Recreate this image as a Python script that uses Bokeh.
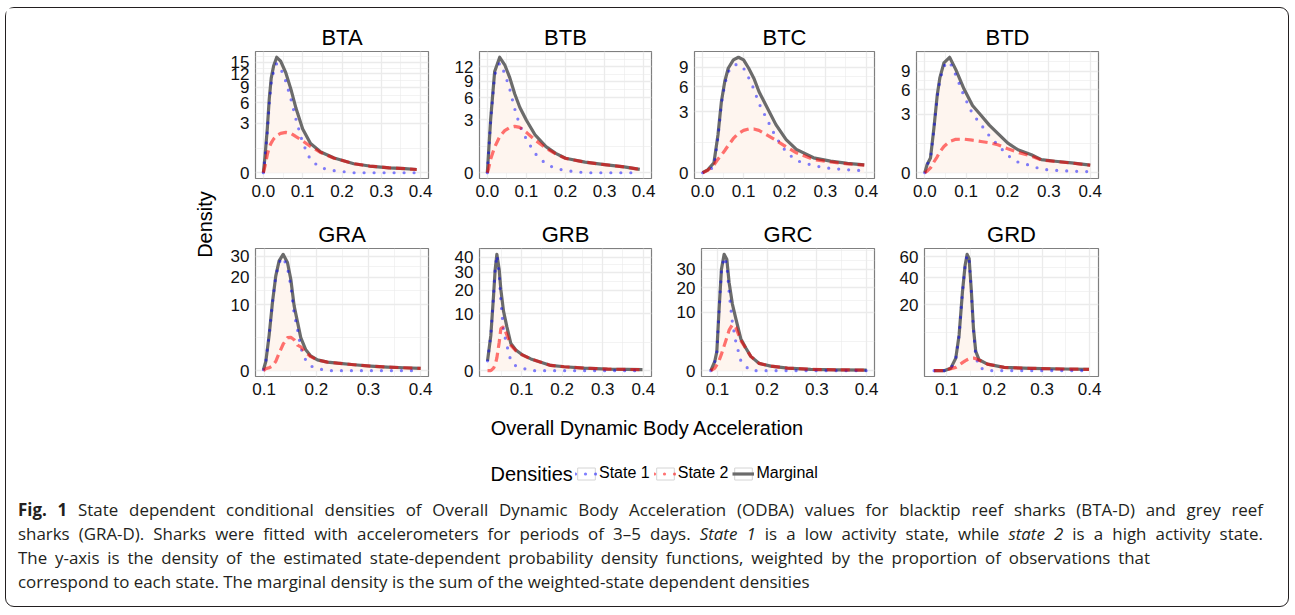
import math
import numpy as np
from bokeh.plotting import figure
from bokeh.models import (Range1d, FixedTicker, CustomJSTickFormatter, Label,
                          Legend, LegendItem, Div)
from bokeh.layouts import row, column
from bokeh.embed import file_html
from bokeh.resources import INLINE

FONT = "Liberation Sans"

# ---------------- data ----------------
PANEL_NAMES = ["BTA", "BTB", "BTC", "BTD", "GRA", "GRB", "GRC", "GRD"]

BTA_X = [0.0, 0.004, 0.01, 0.015, 0.02, 0.026, 0.034, 0.044, 0.057, 0.07, 0.083, 0.1,
         0.12, 0.146, 0.18, 0.23, 0.27, 0.32, 0.36, 0.39]
BTA_S1 = [0.0, 0.25, 2.0, 5.9, 9.9, 12.6, 14.7, 13.4, 10.3, 6.7, 3.5, 1.1,
          0.2, 0.03, 0.005, 0, 0, 0, 0, 0]
BTA_S2 = [0.0, 0.05, 0.4, 0.8, 1.1, 1.4, 1.7, 1.9, 2.0, 1.9, 1.6, 1.25,
          0.85, 0.5, 0.26, 0.1, 0.055, 0.03, 0.02, 0.013]

BTB_X = [0.0, 0.0034, 0.0086, 0.0188, 0.0317, 0.0445, 0.0574, 0.07, 0.083, 0.1,
         0.122, 0.15, 0.175, 0.2, 0.25, 0.3, 0.35, 0.39]
BTB_S1 = [0.0, 0.46, 2.9, 10.3, 12.9, 10.6, 7.5, 4.4, 2.4, 1.2,
          0.4, 0.08, 0.02, 0.005, 0, 0, 0, 0]
BTB_S2 = [0.0, 0.02, 0.2, 0.7, 1.4, 1.9, 2.2, 2.3, 2.2, 1.75,
          1.15, 0.65, 0.38, 0.22, 0.12, 0.07, 0.037, 0.0115]

BTC_X = [0.0, 0.0125, 0.0275, 0.0375, 0.0458, 0.054, 0.0625, 0.075, 0.0875, 0.1,
         0.1125, 0.125, 0.1375, 0.154, 0.179, 0.204, 0.229, 0.271, 0.3125, 0.354, 0.395]
BTC_S1 = [0.0, 0.002, 0.03, 1.03, 3.86, 6.33, 8.23, 9.34, 9.53, 8.85,
          7.28, 5.68, 3.89, 2.54, 1.02, 0.35, 0.12, 0.04, 0.015, 0.007, 0.003]
BTC_S2 = [0.0, 0.005, 0.05, 0.15, 0.25, 0.4, 0.6, 0.95, 1.25, 1.45,
          1.55, 1.55, 1.45, 1.2, 0.85, 0.54, 0.32, 0.14, 0.094, 0.063, 0.047]

BTD_X = [0.0, 0.0057, 0.0138, 0.022, 0.03, 0.0366, 0.0463, 0.06, 0.0748, 0.095,
         0.1154, 0.1358, 0.156, 0.1764, 0.2008, 0.2252, 0.2577, 0.282, 0.315, 0.355, 0.4]
BTD_S1 = [0.0, 0.057, 0.17, 1.61, 4.96, 7.5, 9.9, 10.75, 8.33, 5.12,
          3.02, 2.02, 1.19, 0.67, 0.26, 0.1, 0.043, 0.01, 0.005, 0.002, 0.001]
BTD_S2 = [0.0, 0.002, 0.02, 0.1, 0.22, 0.38, 0.6, 0.85, 0.97, 0.98,
          0.92, 0.85, 0.78, 0.68, 0.5, 0.36, 0.24, 0.14, 0.11, 0.082, 0.049]

GRA_X = [0.0987, 0.1032, 0.1096, 0.116, 0.1223, 0.1287, 0.1364, 0.1447, 0.1511, 0.1574,
         0.1638, 0.1702, 0.1798, 0.1893, 0.2021, 0.2213, 0.2404, 0.2723, 0.3042, 0.336,
         0.368, 0.4]
GRA_S1 = [0.002, 0.185, 2.88, 10.7, 20.4, 26.9, 29.4, 24.3, 16.6, 7.5,
          4.0, 1.2, 0.25, 0.05, 0.01, 0, 0, 0, 0, 0, 0, 0]
GRA_S2 = [0.0, 0.01, 0.02, 0.05, 0.2, 0.7, 1.6, 2.5, 2.55, 2.2,
          1.5, 1.3, 0.75, 0.45, 0.26, 0.168, 0.13, 0.08, 0.049, 0.03, 0.02, 0.012]

GRB_X = [0.0162, 0.0244, 0.031, 0.035, 0.0392, 0.045, 0.049, 0.0556, 0.0638, 0.0737,
         0.086, 0.1025, 0.123, 0.1477, 0.172, 0.205, 0.2545, 0.312, 0.36, 0.398]
GRB_S1 = [0.3, 3.9, 17.3, 31.5, 41.5, 29.1, 15.0, 5.0, 2.0, 0.29,
          0.07, 0.02, 0, 0, 0, 0, 0, 0, 0, 0]
GRB_S2 = [0.0, 0.0, 0.02, 0.1, 0.5, 2.5, 5.5, 6.0, 4.0, 2.0,
          1.25, 0.75, 0.43, 0.225, 0.085, 0.048, 0.021, 0.008, 0.005, 0.003]

GRC_X = [0.0866, 0.0946, 0.0987, 0.1033, 0.108, 0.1134, 0.1188, 0.1234, 0.13, 0.1368,
         0.1469, 0.157, 0.167, 0.184, 0.2072, 0.2407, 0.2875, 0.34, 0.4]
GRC_S1 = [0.0, 0.23, 0.97, 10.9, 29.3, 37.8, 33.1, 18.0, 6.8, 2.5,
          0.3, 0.05, 0, 0, 0, 0, 0, 0, 0]
GRC_S2 = [0.0, 0.02, 0.1, 0.3, 0.8, 1.8, 3.2, 4.8, 6.2, 5.5,
          2.7, 1.45, 0.6, 0.154, 0.062, 0.02, 0.005, 0.002, 0.001]

GRD_X = [0.0734, 0.0944, 0.1084, 0.1189, 0.1259, 0.1329, 0.1385, 0.1427, 0.1469, 0.1517,
         0.156, 0.1608, 0.1678, 0.1853, 0.2203, 0.276, 0.346, 0.3986]
GRD_S1 = [0.0, 0.0, 0.01, 0.68, 5.75, 28.5, 51.0, 62.1, 57.5, 28.1,
          7.6, 1.03, 0.05, 0, 0, 0, 0, 0]
GRD_S2 = [0.0, 0.0, 0.02, 0.05, 0.15, 0.3, 0.45, 0.55, 0.65, 0.72,
          0.73, 0.68, 0.5, 0.2, 0.05, 0.025, 0.013, 0.008]

Y_TICKS = {
    "BTA": [0, 3, 6, 9, 12, 15], "BTB": [0, 3, 6, 9, 12], "BTC": [0, 3, 6, 9],
    "BTD": [0, 3, 6, 9], "GRA": [0, 10, 20, 30], "GRB": [0, 10, 20, 30, 40],
    "GRC": [0, 10, 20, 30], "GRD": [20, 40, 60],
}
X_TICKS_BT = [0.0, 0.1, 0.2, 0.3, 0.4]
X_TICKS_GR = [0.1, 0.2, 0.3, 0.4]
X_LIMITS = {
    "BTA": (0.0, 0.4), "BTB": (0.0, 0.4), "BTC": (0.0, 0.4), "BTD": (0.0, 0.4),
    "GRA": (0.0985, 0.4), "GRB": (0.0157, 0.401), "GRC": (0.0837, 0.4), "GRD": (0.0698, 0.402),
}
SERIES_LABELS = ["State 1", "State 2", "Marginal"]
LEGEND_TITLE = "Densities"
X_LABEL = "Overall Dynamic Body Acceleration"
Y_LABEL = "Density"

DATA = {
    "BTA": (BTA_X, BTA_S1, BTA_S2), "BTB": (BTB_X, BTB_S1, BTB_S2),
    "BTC": (BTC_X, BTC_S1, BTC_S2), "BTD": (BTD_X, BTD_S1, BTD_S2),
    "GRA": (GRA_X, GRA_S1, GRA_S2), "GRB": (GRB_X, GRB_S1, GRB_S2),
    "GRC": (GRC_X, GRC_S1, GRC_S2), "GRD": (GRD_X, GRD_S1, GRD_S2),
}

# ---------------- styling / layout ----------------
FRAME_W = {"BTA": 173, "BTB": 172, "BTC": 180, "BTD": 182,
           "GRA": 173, "GRB": 172, "GRC": 173, "GRD": 174}
LEFT_B = {"BTA": 38, "BTB": 36, "BTC": 28, "BTD": 27,
          "GRA": 38, "GRB": 36, "GRC": 35, "GRD": 35}
FRAME_H = 129
RIGHT_B = 15
C_MARG = "#6B6B6B"
C_S1 = "#0000FF"
C_S2 = "#FF0000"
C_FILL = "#FEF5EF"
C_GRID = "#EBEBEB"


def minor_breaks(ticks, lo, hi):
    b = list(ticks)
    d = b[1] - b[0] if len(b) > 1 else 1.0
    if lo < b[0]:
        b = [b[0] - d] + b
    if hi > b[-1]:
        b = b + [b[-1] + (b[-1] - b[-2] if len(b) > 1 else d)]
    mids = [(b[i] + b[i + 1]) / 2 for i in range(len(b) - 1)]
    out = [v for v in b + mids if lo <= v <= hi and all(abs(v - t) > 1e-9 for t in ticks)]
    return sorted(out)


def make_panel(name, top_border, bottom_border):
    xs, s1, s2 = DATA[name]
    xs = np.array(xs, dtype=float)
    s1 = np.array(s1, dtype=float)
    s2 = np.array(s2, dtype=float)
    marg = s1 + s2  # marginal = sum of the weighted state densities
    ys1, ys2, ym = np.sqrt(s1), np.sqrt(s2), np.sqrt(marg)

    ymax = ym.max()
    y_lo, y_hi = -0.05 * ymax, 1.05 * ymax
    xl, xh = X_LIMITS[name]
    xr = xh - xl
    x_lo, x_hi = xl - 0.05 * xr, xh + 0.05 * xr

    p = figure(width=LEFT_B[name] + FRAME_W[name] + RIGHT_B,
               height=top_border + FRAME_H + bottom_border,
               min_border_left=LEFT_B[name], min_border_right=RIGHT_B,
               min_border_top=top_border, min_border_bottom=bottom_border,
               x_range=Range1d(x_lo, x_hi), y_range=Range1d(y_lo, y_hi),
               output_backend="svg", toolbar_location=None, title=name)
    p.title.align = "center"
    p.title.text_font = FONT
    p.title.text_font_size = "22px"
    p.title.text_font_style = "normal"
    p.title.text_color = "#000000"
    p.title.standoff = 3
    p.outline_line_color = "#7F7F7F"
    p.outline_line_width = 1.2
    p.background_fill_color = "white"
    p.border_fill_color = None

    xt = X_TICKS_BT if name.startswith("BT") else X_TICKS_GR
    xticker = FixedTicker(ticks=xt, minor_ticks=minor_breaks(xt, x_lo, x_hi))
    yt = [math.sqrt(v) for v in Y_TICKS[name]]
    yticker = FixedTicker(ticks=yt, minor_ticks=minor_breaks(yt, y_lo, y_hi))
    p.xaxis.ticker = xticker
    p.xgrid.ticker = xticker
    p.yaxis.ticker = yticker
    p.ygrid.ticker = yticker
    p.xaxis.formatter = CustomJSTickFormatter(code="return tick.toFixed(1);")
    p.yaxis.formatter = CustomJSTickFormatter(code="return Math.round(tick*tick).toString();")
    for ax in (p.xaxis, p.yaxis):
        ax.axis_line_color = None
        ax.major_tick_line_color = None
        ax.minor_tick_line_color = None
        ax.major_tick_out = 0
        ax.major_tick_in = 0
        ax.major_label_standoff = 2
        ax.major_label_text_font = FONT
        ax.major_label_text_font_size = "17px"
        ax.major_label_text_color = "#111111"
    for g in (p.xgrid, p.ygrid):
        g.grid_line_color = C_GRID
        g.grid_line_width = 1.3
        g.minor_grid_line_color = C_GRID
        g.minor_grid_line_width = 0.6

    p.varea(x=xs, y1=np.zeros_like(xs), y2=ym, fill_color=C_FILL, fill_alpha=1.0)
    p.line(xs, ym, line_color=C_MARG, line_width=3.2, line_join="round")
    p.line(xs, ys1, line_color=C_S1, line_alpha=0.5, line_width=3.2,
           line_dash="0 10", line_cap="round")
    p.line(xs, ys2, line_color=C_S2, line_alpha=0.55, line_width=3.2,
           line_dash="9 5")
    return p


row1 = row([make_panel(n, 43, 19) for n in PANEL_NAMES[:4]], spacing=0)
row2 = row([make_panel(n, 49, 20) for n in PANEL_NAMES[4:]], spacing=0)

# y label panel
ylab = figure(width=211, height=389, x_range=Range1d(0, 1), y_range=Range1d(0, 1),
              x_axis_type=None, y_axis_type=None, min_border=0,
              output_backend="svg", toolbar_location=None)
ylab.outline_line_color = None
ylab.grid.visible = False
ylab.add_layout(Label(x=198, y=173, x_units="screen", y_units="screen", text=Y_LABEL,
                      angle=math.pi / 2, text_align="center", text_baseline="middle",
                      text_font=FONT, text_font_size="20px", text_color="#000000"))

top = row([ylab, column([row1, row2], spacing=0)], spacing=0)

xlab = Div(width=1282, height=60, margin=(0, 0, 0, 0),
           text=f'<div style="width:1257px;padding-left:25px;text-align:center;'
                f'font-family:\'{FONT}\';font-size:20px;color:#000;line-height:20px;'
                f'padding-top:21px;">{X_LABEL}</div>')

# legend panel
leg = figure(width=1275, height=42, x_range=Range1d(0, 1), y_range=Range1d(0, 1),
             x_axis_type=None, y_axis_type=None, min_border=0,
             output_backend="svg", toolbar_location=None)
leg.outline_line_color = None
leg.grid.visible = False
OFF = [5.0, 6.0]  # keys' renderers hold points outside the visible range
bg = leg.rect(x=OFF, y=OFF, width=0.1, height=0.1, fill_color="#FFFFFF",
              line_color="#D4D4D4", line_width=1)
k1 = leg.line(x=OFF, y=OFF, line_color=C_S1, line_alpha=0.5, line_width=3.2,
              line_dash="0 10", line_cap="round")
k2 = leg.line(x=OFF, y=OFF, line_color=C_S2, line_alpha=0.55, line_width=3.2,
              line_dash="0 10", line_cap="round")
k3 = leg.line(x=OFF, y=OFF, line_color=C_MARG, line_width=3.2)
legend = Legend(items=[LegendItem(label=SERIES_LABELS[0], renderers=[bg, k1]),
                       LegendItem(label=SERIES_LABELS[1], renderers=[bg, k2]),
                       LegendItem(label=SERIES_LABELS[2], renderers=[bg, k3])],
                orientation="horizontal", location=(569, 17),
                glyph_width=22, glyph_height=15, label_height=15, label_standoff=2,
                spacing=4, padding=0, margin=0, border_line_color=None,
                background_fill_alpha=0, label_text_font=FONT,
                label_text_font_size="16px", label_text_color="#000000")
leg.add_layout(legend, "center")
leg.add_layout(Label(x=484, y=26, x_units="screen", y_units="screen", text=LEGEND_TITLE,
                     text_align="left", text_baseline="middle", text_font=FONT,
                     text_font_size="20px", text_color="#000000"))

LINE_STYLE = ("font-family:'Open Sans';font-size:16.9px;line-height:24px;color:#231F20;"
              "white-space:nowrap;")
caption_html = (
    '<div style="padding-left:12px;padding-top:0px;margin-top:-1px;">'
    f'<div style="{LINE_STYLE}width:1245px;text-align:justify;text-align-last:justify;">'
    '<b>Fig. 1</b> State dependent conditional densities of Overall Dynamic Body '
    'Acceleration (ODBA) values for blacktip reef sharks (BTA-D) and grey reef</div>'
    f'<div style="{LINE_STYLE}width:1245px;text-align:justify;text-align-last:justify;">'
    'sharks (GRA-D). Sharks were fitted with accelerometers for periods of 3–5 days. '
    '<i>State 1</i> is a low activity state, while <i>state 2</i> is a high activity state.</div>'
    f'<div style="{LINE_STYLE}width:1132px;text-align:justify;text-align-last:justify;">'
    'The y-axis is the density of the estimated state-dependent probability density '
    'functions, weighted by the proportion of observations that</div>'
    f'<div style="{LINE_STYLE}">'
    'correspond to each state. The marginal density is the sum of the weighted-state '
    'dependent densities</div></div>'
)
caption = Div(width=1282, height=107, margin=(0, 0, 0, 0), text=caption_html)

layout = column([top, xlab, leg, caption], spacing=0, margin=(7, 0, 0, 5),
                styles={"border": "1.5px solid #231F20", "border-radius": "9px"})

open("out.html", "w").write(file_html(layout, INLINE))
